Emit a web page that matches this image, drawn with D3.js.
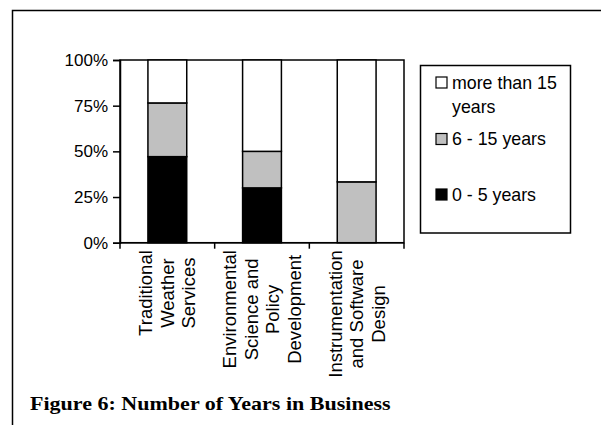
<!DOCTYPE html>
<html>
<head>
<meta charset="utf-8">
<script src="https://cdn.jsdelivr.net/npm/d3@7"></script>
<style>
  html, body { margin: 0; padding: 0; background: #fff; }
  svg { display: block; }
</style>
</head>
<body>
<svg id="chart" width="601" height="425"></svg>
<script>
// Business sectors (category labels split into lines)
const categories = [
  ["Traditional", "Weather", "Services"],
  ["Environmental", "Science and", "Policy", "Development"],
  ["Instrumentation", "and Software", "Design"]
];
// Share of firms in each age band, per sector (stack order bottom → top)
const years0to5   = [0.471, 0.30, 0.0];
const years6to15  = [0.294, 0.20, 0.333];
const yearsOver15 = [0.235, 0.50, 0.667];
const seriesNames = ["0 - 5 years", "6 - 15 years", "more than 15 years"];
const seriesColors = ["#000000", "#c0c0c0", "#ffffff"];
const tickLabels = [0, 0.25, 0.5, 0.75, 1];
const title = "Figure 6: Number of Years in Business";

const svg = d3.select("#chart");
const sans = "'Liberation Sans', Arial, sans-serif";

// outer frame (top and left edges)
svg.append("path")
  .attr("d", "M12.5,425 V10.5 H601")
  .attr("fill", "none").attr("stroke", "#000").attr("stroke-width", 1.5);

const plot = { left: 120, right: 404, top: 60, bottom: 242.7 };

const x = d3.scaleBand()
  .domain(d3.range(categories.length))
  .range([plot.left, plot.right])
  .paddingInner(0.59).paddingOuter(0.295);
const y = d3.scaleLinear().domain([0, 1]).range([plot.bottom, plot.top]);

const rows = categories.map((c, i) => ({
  i, a: years0to5[i], b: years6to15[i], c: yearsOver15[i]
}));
const stack = d3.stack().keys(["a", "b", "c"])(rows);

// plot area border
svg.append("rect")
  .attr("x", plot.left).attr("y", plot.top)
  .attr("width", plot.right - plot.left).attr("height", plot.bottom - plot.top)
  .attr("fill", "none").attr("stroke", "#000").attr("stroke-width", 1.5);

// stacked bars
stack.forEach((layer, k) => {
  svg.append("g").selectAll("rect")
    .data(layer.filter(d => d[1] - d[0] > 0))
    .join("rect")
      .attr("x", d => x(d.data.i))
      .attr("width", x.bandwidth())
      .attr("y", d => y(d[1]))
      .attr("height", d => y(d[0]) - y(d[1]))
      .attr("fill", seriesColors[k])
      .attr("stroke", "#000").attr("stroke-width", 1.5);
});

// y axis
const yAxis = svg.append("g")
  .attr("transform", `translate(${plot.left},0)`)
  .call(d3.axisLeft(y).tickValues(tickLabels).tickFormat(d3.format(".0%")).tickSize(7).tickPadding(5));
yAxis.select(".domain").attr("stroke-width", 1.5);
yAxis.selectAll(".tick line").attr("stroke-width", 1.5);
yAxis.selectAll("text").attr("font-family", sans).attr("font-size", 17).attr("fill", "#000");

// x axis: ticks sit on the category boundaries
const step = x.step();
const bounds = d3.range(categories.length + 1).map(i => plot.left + i * step);
svg.append("line")
  .attr("x1", plot.left).attr("x2", plot.right)
  .attr("y1", plot.bottom).attr("y2", plot.bottom)
  .attr("stroke", "#000").attr("stroke-width", 1.5);
svg.append("g").selectAll("line")
  .data(bounds)
  .join("line")
    .attr("x1", d => d).attr("x2", d => d)
    .attr("y1", plot.bottom).attr("y2", plot.bottom + 6)
    .attr("stroke", "#000").attr("stroke-width", 1.5);

// rotated, centred multi-line category labels
const lh = 21.5;
categories.forEach((lines, i) => {
  const cx = x(i) + x.bandwidth() / 2;
  const g = svg.append("g");
  const t = g.append("text")
    .attr("font-family", sans).attr("font-size", 18.5)
    .attr("text-anchor", "middle");
  lines.forEach((ln, j) => {
    t.append("tspan")
      .attr("x", 0)
      .attr("y", (j - (lines.length - 1) / 2) * lh)
      .attr("dy", "0.35em")
      .text(ln);
  });
  const maxLen = d3.max(t.selectAll("tspan").nodes(), n => n.getComputedTextLength());
  const cy = plot.bottom + 7.5 + maxLen / 2;
  g.attr("transform", `translate(${cx},${cy}) rotate(-90)`);
});

// legend
const lg = svg.append("g");
lg.append("rect")
  .attr("x", 420.5).attr("y", 65.5).attr("width", 150).attr("height", 167.5)
  .attr("fill", "#fff").attr("stroke", "#000").attr("stroke-width", 1.5);
const legendItems = [
  { k: 2, lines: ["more than 15", "years"], y: 82.5 },
  { k: 1, lines: ["6 - 15 years"], y: 139 },
  { k: 0, lines: ["0 - 5 years"], y: 194.5 }
];
legendItems.forEach(it => {
  lg.append("rect")
    .attr("x", 436).attr("y", it.y - 5.5).attr("width", 11).attr("height", 11)
    .attr("fill", seriesColors[it.k]).attr("stroke", "#000").attr("stroke-width", 1.2);
  const t = lg.append("text")
    .attr("font-family", sans).attr("font-size", 17.8).attr("fill", "#000");
  it.lines.forEach((ln, j) => {
    t.append("tspan").attr("x", 452).attr("y", it.y + j * 24).attr("dy", "0.35em").text(ln);
  });
});

// figure caption (wide bold serif)
svg.append("text")
  .attr("transform", "translate(30,410) scale(1.13,1)")
  .attr("font-family", "'Liberation Serif', 'Times New Roman', serif")
  .attr("font-weight", "bold").attr("font-size", 19.5)
  .text(title);
</script>
</body>
</html>
